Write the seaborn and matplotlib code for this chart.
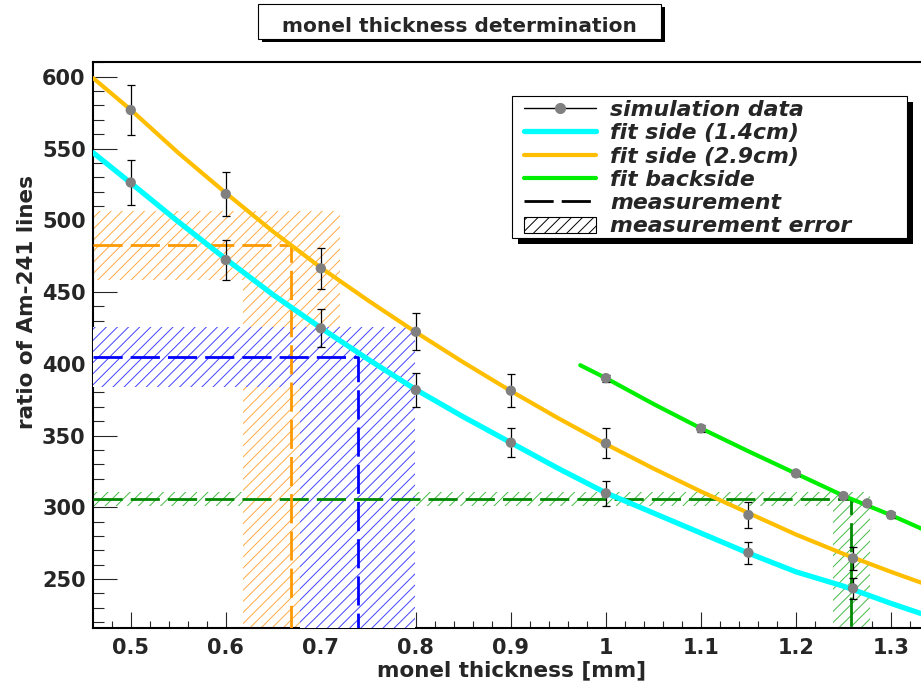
import matplotlib
matplotlib.use("Agg")
import matplotlib.pyplot as plt
from matplotlib.lines import Line2D
from matplotlib.patches import Patch, Rectangle
from matplotlib.ticker import MultipleLocator, FixedLocator, FixedFormatter
import seaborn as sns

# simulation points (side detectors)
thick_side = [0.5, 0.6, 0.7, 0.8, 0.9, 1.0, 1.15, 1.26]
ratio_side14 = [526.3, 472.3, 424.7, 381.7, 345.0, 309.7, 268.3, 243.5]
err_side14 = [15.7, 14.0, 13.2, 11.8, 10.1, 8.7, 7.8, 7.5]
ratio_side29 = [576.8, 518.3, 466.5, 422.3, 381.2, 344.5, 294.6, 264.4]
err_side29 = [17.4, 15.0, 14.3, 12.9, 11.5, 10.5, 8.9, 7.8]

# simulation points (backside detector)
thick_back = [1.0, 1.1, 1.2, 1.25, 1.275, 1.3]
ratio_back = [390.0, 355.0, 323.6, 307.8, 302.7, 294.6]
err_back = [2.5, 2.5, 2.0, 2.0, 2.0, 2.0]

# fit curves
fit_x = [0.4606, 0.5, 0.55, 0.6, 0.65, 0.7, 0.75, 0.8, 0.85, 0.9, 0.95,
         1.0, 1.05, 1.1, 1.15, 1.2, 1.25, 1.3, 1.3358]
fit_side14 = [547, 526, 499, 473, 448, 425, 403, 382, 363, 345, 327,
              310, 296, 282, 268, 255, 245, 233, 225]
fit_side29 = [599, 577, 547, 519, 492, 467, 444, 422, 401, 381, 362,
              344, 327, 311, 296, 281, 267.5, 255, 246.5]
fit_back_x = [0.973, 1.0, 1.05, 1.1, 1.15, 1.2, 1.25, 1.3, 1.3358]
fit_back = [399, 390, 372, 355, 339, 323.5, 308, 294.5, 284]

# measurements with errors (drawn in this order)
meas_x = [1.258, 0.669, 0.739]
meas_x_lo = [1.2393, 0.6185, 0.678]
meas_x_hi = [1.278, 0.7202, 0.799]
meas_y = [306, 483, 405]
meas_y_lo = [301, 458.3, 384]
meas_y_hi = [310.5, 506.4, 425.8]
meas_line_colors = ['#008800', '#ff9900', '#0000ff']
meas_hatch_colors = ['#44bb44', '#ffaa44', '#4444ff']

x_ticks = [0.5, 0.6, 0.7, 0.8, 0.9, 1.0, 1.1, 1.2, 1.3]
x_tick_labels = ['0.5', '0.6', '0.7', '0.8', '0.9', '1', '1.1', '1.2', '1.3']

sns.set_style("white")
plt.rcParams['font.family'] = ['DejaVu Sans']
plt.rcParams['lines.scale_dashes'] = False
plt.rcParams['hatch.linewidth'] = 0.7

XMIN, XMAX = 0.4606, 1.3358
YMIN, YMAX = 216.2, 610.5
dash = (21, 5.8)

fig = plt.figure(figsize=(9.21, 6.91), dpi=100)
ax = fig.add_axes([93.3 / 921, 1 - 627.5 / 691, (925 - 93.3) / 921, 565.8 / 691])
ax.set_xlim(XMIN, XMAX)
ax.set_ylim(YMIN, YMAX)

# measurement error boxes (hatched, white background)
for i in range(len(meas_x)):
    hb = Rectangle((XMIN, meas_y_lo[i]), meas_x_hi[i] - XMIN, meas_y_hi[i] - meas_y_lo[i],
                   facecolor='white', edgecolor=meas_hatch_colors[i], lw=0, hatch='///', zorder=1 + i)
    vb = Rectangle((meas_x_lo[i], YMIN), meas_x_hi[i] - meas_x_lo[i], meas_y_hi[i] - YMIN,
                   facecolor='white', edgecolor=meas_hatch_colors[i], lw=0, hatch='///', zorder=1 + i)
    ax.add_patch(hb)
    ax.add_patch(vb)

# measurement lines
for i in range(len(meas_x)):
    ax.plot([XMIN, meas_x[i], meas_x[i]], [meas_y[i], meas_y[i], YMIN],
            color=meas_line_colors[i], lw=2, dashes=dash, zorder=5)

# fits
sns.lineplot(x=fit_x, y=fit_side14, color='#00ffff', linewidth=3.8, ax=ax, zorder=6)
sns.lineplot(x=fit_x, y=fit_side29, color='#ffbf00', linewidth=3.0, ax=ax, zorder=6)
sns.lineplot(x=fit_back_x, y=fit_back, color='#00ee00', linewidth=3.0, ax=ax, zorder=6)

# simulation data
for xs, ys, es in [(thick_side, ratio_side14, err_side14),
                   (thick_side, ratio_side29, err_side29),
                   (thick_back, ratio_back, err_back)]:
    ax.errorbar(xs, ys, yerr=es, fmt='none', ecolor='black', elinewidth=0.9,
                capsize=2.6, capthick=0.9, zorder=7)
    sns.scatterplot(x=xs, y=ys, color='#808080', s=55, edgecolor='none', ax=ax, zorder=8)

# axes styling
for side in ['left', 'bottom', 'top']:
    ax.spines[side].set_linewidth(1.5)
    ax.spines[side].set_color('black')
ax.spines['right'].set_visible(False)

ax.xaxis.set_major_locator(FixedLocator(x_ticks))
ax.xaxis.set_major_formatter(FixedFormatter(x_tick_labels))
ax.xaxis.set_minor_locator(MultipleLocator(0.02))
ax.yaxis.set_major_locator(MultipleLocator(50))
ax.yaxis.set_minor_locator(MultipleLocator(10))
ax.tick_params(axis='x', which='major', direction='in', length=11.5, width=0.8, pad=7.2,
               labelsize=15, top=False, bottom=True)
ax.tick_params(axis='x', which='minor', direction='in', length=5.4, width=0.8, top=False, bottom=True)
ax.tick_params(axis='y', which='major', direction='in', length=17.3, width=0.8, pad=5.5,
               labelsize=15, left=True, right=False)
ax.tick_params(axis='y', which='minor', direction='in', length=7.9, width=0.8, left=True, right=False)
for lab in ax.get_xticklabels() + ax.get_yticklabels():
    lab.set_fontweight('bold')

ax.set_xlabel('monel thickness [mm]', fontsize=15.5, fontweight='bold')
ax.set_ylabel('ratio of Am-241 lines', fontsize=15.5, fontweight='bold')
ax.xaxis.set_label_coords(0.5026, -0.0587)
ax.yaxis.set_label_coords(-0.0679, 0.5753)

# title box with shadow
W, H = 921.0, 691.0
fig.add_artist(Rectangle((262 / W, 1 - 42 / H), 403 / W, 35.3 / H, transform=fig.transFigure,
                         facecolor='black', edgecolor='none', zorder=2))
fig.add_artist(Rectangle((258 / W, 1 - 39.3 / H), 403 / W, 35.3 / H, transform=fig.transFigure,
                         facecolor='white', edgecolor='black', lw=0.8, zorder=3))
fig.text(459.5 / W, 1 - 31.7 / H, 'monel thickness determination', ha='center', va='baseline',
         fontsize=14.5, fontweight='bold', zorder=4)

# legend box with shadow
fig.add_artist(Rectangle((517.7 / W, 1 - 243.7 / H), 395.6 / W, 142 / H, transform=fig.transFigure,
                         facecolor='black', edgecolor='none', zorder=2))
fig.add_artist(Rectangle((511.7 / W, 1 - 237.7 / H), 395.6 / W, 142 / H, transform=fig.transFigure,
                         facecolor='white', edgecolor='black', lw=0.8, zorder=3))

handles = [
    Line2D([], [], color='black', lw=1, marker='o', markersize=7,
           markerfacecolor='#808080', markeredgecolor='#808080'),
    Line2D([], [], color='#00ffff', lw=3.8),
    Line2D([], [], color='#ffbf00', lw=3.0),
    Line2D([], [], color='#00ee00', lw=3.0),
    Line2D([], [], color='black', lw=2, dashes=dash),
    Patch(facecolor='white', edgecolor='black', hatch='///', lw=0.8),
]
labels = ['simulation data', 'fit side (1.4cm)', 'fit side (2.9cm)', 'fit backside',
          'measurement', 'measurement error']
leg = fig.legend(handles, labels, loc='upper left', bbox_to_anchor=(524 / W, 1 - 100 / H),
                 frameon=False, borderpad=0, borderaxespad=0, handlelength=3.27,
                 handleheight=0.75, handletextpad=0.65, labelspacing=0.15, numpoints=1,
                 prop={'weight': 'bold', 'style': 'italic', 'size': 15.8})
leg.set_zorder(5)

fig.savefig('out.png', dpi=100)
